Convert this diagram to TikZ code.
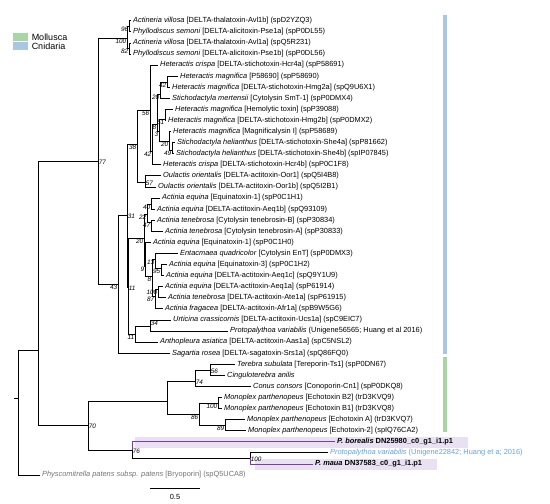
\documentclass[tikz,border=0pt]{standalone}
\usepackage{fontspec}
\setmainfont{Liberation Sans}
\usetikzlibrary{positioning}

\definecolor{mollgreen}{RGB}{168,213,165}
\definecolor{cnidblue}{RGB}{169,199,227}
\definecolor{pachyline}{RGB}{125,60,160}
\definecolor{pachyband}{RGB}{233,225,242}
\definecolor{protoblue}{RGB}{105,160,210}
\definecolor{outgrey}{RGB}{115,115,115}

\tikzset{
  leaf/.style={inner sep=1pt, font=\fontsize{7.4}{8}\selectfont},
  bs/.style={inner sep=0.4pt, font=\fontsize{6.4}{7}\selectfont\itshape},
  bsl/.style={bs, anchor=north east},
  bsr/.style={bs, anchor=west, yshift=-1.2pt},
  legbox/.style={minimum width=15pt, minimum height=8pt, inner sep=0pt},
  legtext/.style={inner sep=1pt, font=\fontsize{9}{10}\selectfont},
  pachy/.style={draw=pachyline},
}

\begin{document}
\begin{tikzpicture}[x=1pt, y=-1pt, line width=0.75pt]
\useasboundingbox (0,0) rectangle (550,504);

% Highlight bands and clade bars
\fill[pachyband] (135,436.5) rectangle (468,447.5);
\fill[pachyband] (255,458.5) rectangle (437,469.5);
\fill[cnidblue] (443,15) rectangle (447,354);
\fill[mollgreen] (443,357) rectangle (447,432);

% Legend
\node[legbox, fill=mollgreen] (boxM) at (20.5,37) {};
\node[legtext, right=2pt of boxM] (legM) {Mollusca};
\node[legbox, fill=cnidblue] (boxC) at (20.5,46) {};
\node[legtext, right=2pt of boxC] (legC) {Cnidaria};

% Internal nodes
\coordinate (rs) at (14,398);
\coordinate (root) at (18,398);
\coordinate (n38) at (38,350);
\coordinate (A) at (98,161);
\coordinate (Q1) at (127,38);
\coordinate (Q2) at (129,26);
\coordinate (Q3) at (129,48);
\coordinate (B) at (118,284);
\coordinate (C) at (127,215);
\coordinate (D) at (137,144);
\coordinate (F) at (150,110);
\coordinate (K) at (152,151);
\coordinate (L) at (157,124);
\coordinate (M1) at (160,94);
\coordinate (P67) at (167,82);
\coordinate (M2) at (159,131);
\coordinate (P910) at (165,119);
\coordinate (N) at (169,141);
\coordinate (P1213) at (172,150);
\coordinate (G) at (145,182);
\coordinate (E) at (128,287);
\coordinate (S) at (144,238);
\coordinate (S1) at (147,214);
\coordinate (P1718) at (151,204);
\coordinate (P1920) at (151,222);
\coordinate (Y) at (145,266);
\coordinate (S2) at (152,276);
\coordinate (S3) at (155,259);
\coordinate (P2324) at (161,268);
\coordinate (S4) at (155,296);
\coordinate (P2526) at (158,289);
\coordinate (T) at (135,334);
\coordinate (U) at (150,326);
\coordinate (n70) at (88,425);
\coordinate (m1) at (167,401);
\coordinate (n74) at (195,381);
\coordinate (n56) at (210,370);
\coordinate (n86) at (199,414);
\coordinate (n100m) at (218,403);
\coordinate (n89) at (225,425);
\coordinate (n76) at (132,450);
\coordinate (n100p) at (250,458.4);

% Tips
\coordinate (t1) at (131,20.7);
\coordinate (t2) at (131,31.8);
\coordinate (t3) at (131,42.9);
\coordinate (t4) at (131,53.9);
\coordinate (t5) at (158,65.0);
\coordinate (t6) at (178,76.1);
\coordinate (t7) at (170,87.2);
\coordinate (t8) at (170,98.3);
\coordinate (t9) at (173,109.3);
\coordinate (t10) at (166,120.4);
\coordinate (t11) at (171,131.5);
\coordinate (t12) at (175,142.6);
\coordinate (t13) at (174,153.7);
\coordinate (t14) at (161,164.7);
\coordinate (t15) at (161,175.8);
\coordinate (t16) at (156,186.9);
\coordinate (t17) at (160,198.0);
\coordinate (t18) at (155,209.1);
\coordinate (t19) at (155,220.1);
\coordinate (t20) at (163,231.2);
\coordinate (t21) at (151,242.3);
\coordinate (t22) at (178,253.4);
\coordinate (t23) at (167,264.5);
\coordinate (t24) at (164,275.5);
\coordinate (t25) at (163,286.6);
\coordinate (t26) at (166,297.7);
\coordinate (t27) at (163,308.8);
\coordinate (t28) at (171,319.9);
\coordinate (t29) at (228,330.9);
\coordinate (t30) at (158,342.0);
\coordinate (t31) at (170,353.1);
\coordinate (t32) at (235,364.2);
\coordinate (t33) at (225,375.3);
\coordinate (t34) at (251,386.3);
\coordinate (t35) at (222,397.4);
\coordinate (t36) at (222,408.5);
\coordinate (t37) at (245,419.6);
\coordinate (t38) at (246,430.7);
\coordinate (t39) at (335,441.7);
\coordinate (t40) at (328,452.8);
\coordinate (t41) at (313,463.9);
\coordinate (t42) at (40,475.0);

% Root and outgroup
\draw (rs) -- (root);
\draw (root) |- (n38) (root) |- (t42);
\draw (n38) |- (A) (n38) |- (n70);

% Cnidaria
\draw (A) |- (Q1) (A) |- (B);
\draw (Q1) |- (Q2) (Q1) |- (Q3);
\draw (Q2) |- (t1) (Q2) |- (t2);
\draw (Q3) |- (t3) (Q3) |- (t4);
\draw (B) |- (C) (B) |- (t31);
\draw (C) |- (D) (C) |- (E);
\draw (D) |- (F) (D) |- (G);
\draw (F) |- (t5) (F) |- (K);
\draw (K) |- (L) (K) |- (t14);
\draw (L) |- (M1) (L) |- (M2);
\draw (M1) |- (P67) (M1) |- (t8);
\draw (P67) |- (t6) (P67) |- (t7);
\draw (M2) |- (P910) (M2) |- (N);
\draw (P910) |- (t9) (P910) |- (t10);
\draw (N) |- (t11) (N) |- (P1213);
\draw (P1213) |- (t12) (P1213) |- (t13);
\draw (G) |- (t15) (G) |- (t16);
\draw (E) |- (S) (E) |- (T);
\draw (S) |- (S1) (S) |- (Y);
\draw (S1) |- (P1718) (S1) |- (P1920);
\draw (P1718) |- (t17) (P1718) |- (t18);
\draw (P1920) |- (t19) (P1920) |- (t20);
\draw (Y) |- (t21) (Y) |- (S2);
\draw (S2) |- (S3) (S2) |- (S4);
\draw (S3) |- (t22) (S3) |- (P2324);
\draw (P2324) |- (t23) (P2324) |- (t24);
\draw (S4) |- (P2526) (S4) |- (t27);
\draw (P2526) |- (t25) (P2526) |- (t26);
\draw (T) |- (U) (T) |- (t30);
\draw (U) |- (t28) (U) |- (t29);

% Mollusca
\draw (n70) |- (m1) (n70) |- (n76);
\draw (m1) |- (n74) (m1) |- (n86);
\draw (n74) |- (n56) (n74) |- (t34);
\draw (n56) |- (t32) (n56) |- (t33);
\draw (n86) |- (n100m) (n86) |- (n89);
\draw (n100m) |- (t35) (n100m) |- (t36);
\draw (n89) |- (t37) (n89) |- (t38);

% Pachycerianthus and Protopalythoa
\draw[pachy] (n76) |- (t39);
\draw (n76) |- (n100p);
\draw (n100p) |- (t40);
\draw[pachy] (n100p) |- (t41);

% Support values
\node[bsl] (b96) at (Q2) {96};
\node[bsl] (b100a) at (Q1) {100};
\node[bsl] (b82) at (Q3) {82};
\node[bsr] (b77) at (A) {77};
\node[bsl] (b43) at (B) {43};
\node[bsr] (b31) at (C) {31};
\node[bsl] (b38) at (D) {38};
\node[bsl] (b56a) at (F) {56};
\node[bsl] (b42a) at (K) {42};
\node[bsl] (b8a) at (L) {8};
\node[bsl] (b20a) at (M1) {20};
\node[bsl] (b42b) at (P67) {42};
\node[bsl] (b3) at (M2) {3};
\node[bsl] (b51) at (P910) {51};
\node[bsl] (b20b) at (N) {20};
\node[bsl] (b49) at (P1213) {49};
\node[bsr] (b57) at (G) {57};
\node[bsr] (b11a) at (E) {11};
\node[bsl] (b20c) at (S) {20};
\node[bsl] (b22) at (S1) {22};
\node[bsl] (b40) at (P1718) {40};
\node[bsl] (b47) at (P1920) {47};
\node[bsl] (b9) at (Y) {9};
\node[bsl] (b8b) at (S2) {8};
\node[bsl] (b13) at (S3) {13};
\node[bsl] (b95) at (P2324) {95};
\node[bsl] (b87) at (S4) {87};
\node[bsl] (b100b) at (P2526) {100};
\node[bsl] (b11b) at (T) {11};
\node[bs, anchor=south west] (b34) at (U) {34};
\node[bsr] (b70) at (n70) {70};
\node[bsr] (b74) at (n74) {74};
\node[bsr] (b56b) at (n56) {56};
\node[bsl] (b86) at (n86) {86};
\node[bsl] (b100c) at (n100m) {100};
\node[bsl] (b89) at (n89) {89};
\node[bsr] (b76) at (n76) {76};
\node[bsr] (b100d) at (n100p) {100};

% Leaf labels
\node[leaf, right=0.8pt of t1] (l1) {\textit{Actineria villosa} [DELTA-thalatoxin-Avl1b] (spD2YZQ3)};
\node[leaf, right=0.8pt of t2] (l2) {\textit{Phyllodiscus semoni} [DELTA-alicitoxin-Pse1a] (spP0DL55)};
\node[leaf, right=0.8pt of t3] (l3) {\textit{Actineria villosa} [DELTA-thalatoxin-Avl1a] (spQ5R231)};
\node[leaf, right=0.8pt of t4] (l4) {\textit{Phyllodiscus semoni} [DELTA-alicitoxin-Pse1b] (spP0DL56)};
\node[leaf, right=0.8pt of t5] (l5) {\textit{Heteractis crispa} [DELTA-stichotoxin-Hcr4a] (spP58691)};
\node[leaf, right=0.8pt of t6] (l6) {\textit{Heteractis magnifica} [P58690] (spP58690)};
\node[leaf, right=0.8pt of t7] (l7) {\textit{Heteractis magnifica} [DELTA-stichotoxin-Hmg2a] (spQ9U6X1)};
\node[leaf, right=0.8pt of t8] (l8) {\textit{Stichodactyla mertensii} [Cytolysin SmT-1] (spP0DMX4)};
\node[leaf, right=0.8pt of t9] (l9) {\textit{Heteractis magnifica} [Hemolytic toxin] (spP39088)};
\node[leaf, right=0.8pt of t10] (l10) {\textit{Heteractis magnifica} [DELTA-stichotoxin-Hmg2b] (spP0DMX2)};
\node[leaf, right=0.8pt of t11] (l11) {\textit{Heteractis magnifica} [Magnificalysin I] (spP58689)};
\node[leaf, right=0.8pt of t12] (l12) {\textit{Stichodactyla helianthus} [DELTA-stichotoxin-She4a] (spP81662)};
\node[leaf, right=0.8pt of t13] (l13) {\textit{Stichodactyla helianthus} [DELTA-stichotoxin-She4b] (spIP07845)};
\node[leaf, right=0.8pt of t14] (l14) {\textit{Heteractis crispa} [DELTA-stichotoxin-Hcr4b] (spP0C1F8)};
\node[leaf, right=0.8pt of t15] (l15) {\textit{Oulactis orientalis} [DELTA-actitoxin-Oor1] (spQ5I4B8)};
\node[leaf, right=0.8pt of t16] (l16) {\textit{Oulactis orientalis} [DELTA-actitoxin-Oor1b] (spQ5I2B1)};
\node[leaf, right=0.8pt of t17] (l17) {\textit{Actinia equina} [Equinatoxin-1] (spP0C1H1)};
\node[leaf, right=0.8pt of t18] (l18) {\textit{Actinia equina} [DELTA-actitoxin-Aeq1b] (spQ93109)};
\node[leaf, right=0.8pt of t19] (l19) {\textit{Actinia tenebrosa} [Cytolysin tenebrosin-B] (spP30834)};
\node[leaf, right=0.8pt of t20] (l20) {\textit{Actinia tenebrosa} [Cytolysin tenebrosin-A] (spP30833)};
\node[leaf, right=0.8pt of t21] (l21) {\textit{Actinia equina} [Equinatoxin-1] (spP0C1H0)};
\node[leaf, right=0.8pt of t22] (l22) {\textit{Entacmaea quadricolor} [Cytolysin EnT] (spP0DMX3)};
\node[leaf, right=0.8pt of t23] (l23) {\textit{Actinia equina} [Equinatoxin-3] (spP0C1H2)};
\node[leaf, right=0.8pt of t24] (l24) {\textit{Actinia equina} [DELTA-actitoxin-Aeq1c] (spQ9Y1U9)};
\node[leaf, right=0.8pt of t25] (l25) {\textit{Actinia equina} [DELTA-actitoxin-Aeq1a] (spP61914)};
\node[leaf, right=0.8pt of t26] (l26) {\textit{Actinia tenebrosa} [DELTA-actitoxin-Ate1a] (spP61915)};
\node[leaf, right=0.8pt of t27] (l27) {\textit{Actinia fragacea} [DELTA-actitoxin-Afr1a] (spB9W5G6)};
\node[leaf, right=0.8pt of t28] (l28) {\textit{Urticina crassicornis} [DELTA-actitoxin-Ucs1a] (spC9EIC7)};
\node[leaf, right=0.8pt of t29] (l29) {\textit{Protopalythoa variabilis} (Unigene56565; Huang et al 2016)};
\node[leaf, right=0.8pt of t30] (l30) {\textit{Anthopleura asiatica} [DELTA-actitoxin-Aas1a] (spC5NSL2)};
\node[leaf, right=0.8pt of t31] (l31) {\textit{Sagartia rosea} [DELTA-sagatoxin-Srs1a] (spQ86FQ0)};
\node[leaf, right=0.8pt of t32] (l32) {\textit{Terebra subulata} [Tereporin-Ts1] (spP0DN67)};
\node[leaf, right=0.8pt of t33] (l33) {\textit{Cinguloterebra anilis}};
\node[leaf, right=0.8pt of t34] (l34) {\textit{Conus consors} [Conoporin-Cn1] (spP0DKQ8)};
\node[leaf, right=0.8pt of t35] (l35) {\textit{Monoplex parthenopeus} [Echotoxin B2] (trD3KVQ9)};
\node[leaf, right=0.8pt of t36] (l36) {\textit{Monoplex parthenopeus} [Echotoxin B1] (trD3KVQ8)};
\node[leaf, right=0.8pt of t37] (l37) {\textit{Monoplex parthenopeus} [Echotoxin A] (trD3KVQ7)};
\node[leaf, right=0.8pt of t38] (l38) {\textit{Monoplex parthenopeus} [Echotoxin-2] (spIQ76CA2)};
\node[leaf, right=0.8pt of t39] (l39) {\textbf{\textit{P. borealis} DN25980\_c0\_g1\_i1.p1}};
\node[leaf, right=0.8pt of t40, text=protoblue] (l40) {\textit{Protopalythoa variabilis} (Unigene22842; Huang et a; 2016)};
\node[leaf, right=0.8pt of t41] (l41) {\textbf{\textit{P. maua} DN37583\_c0\_g1\_i1.p1}};
\node[leaf, right=0.8pt of t42, text=outgrey] (l42) {\textit{Physcomitrella patens subsp. patens} [Bryoporin] (spQ5UCA8)};

% Scale bar
\coordinate (sb1) at (150,488);
\coordinate (sb2) at (200,488);
\draw (sb1) -- (sb2);
\node[leaf] (sbl) at (175,497) {0.5};
\end{tikzpicture}
\end{document}
